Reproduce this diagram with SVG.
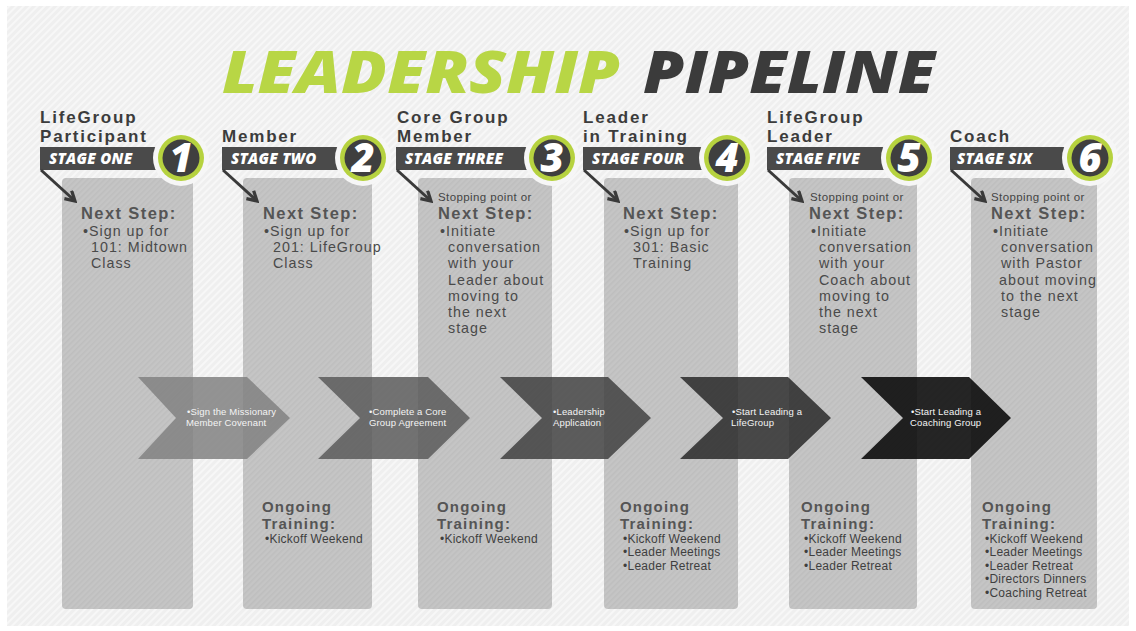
<svg xmlns="http://www.w3.org/2000/svg" width="1136" height="631" viewBox="0 0 1136 631">
<defs>
<pattern id="bgHatch" width="5" height="5" patternUnits="userSpaceOnUse" patternTransform="rotate(45)">
<rect width="5" height="5" fill="#efefef"/>
<rect width="2" height="5" fill="#f7f7f7"/>
</pattern>
<pattern id="colHatch" width="4" height="4" patternUnits="userSpaceOnUse" patternTransform="rotate(45)">
<rect width="4" height="4" fill="#c5c5c5"/>
<rect width="1.5" height="4" fill="#bebebe"/>
</pattern>
<marker id="arr" viewBox="0 0 10 10" refX="8" refY="5" markerWidth="4.5" markerHeight="4.5" orient="auto" markerUnits="strokeWidth">
<path d="M1,1 L8,5 L1,9" fill="none" stroke="#3a3a3a" stroke-width="2.4"/>
</marker>
</defs>
<style>
.col{fill:url(#colHatch)}
.bar{fill:#4a4a4a}
.halo{fill:#f6f6f6}
.ring{fill:#b6d23f}
.disc{fill:#3f3f3f}
.num{font-family:"Open Sans","Liberation Sans",sans-serif;font-weight:800;font-style:italic;font-size:40px;fill:#ffffff;text-anchor:middle}
.stage{font-family:"Open Sans","Liberation Sans",sans-serif;font-weight:800;font-style:italic;font-size:15px;fill:#ffffff;letter-spacing:0.3px}
.head{font-family:"Liberation Sans",Arial,sans-serif;font-weight:700;font-size:17px;fill:#3c3c3c;letter-spacing:1.8px}
.ns{font-family:"Liberation Sans",Arial,sans-serif;font-weight:700;font-size:16.5px;fill:#555555;letter-spacing:1.4px}
.og{font-family:"Liberation Sans",Arial,sans-serif;font-weight:700;font-size:15px;fill:#555555;letter-spacing:1.2px}
.sp{font-family:"Liberation Sans",Arial,sans-serif;font-size:11.5px;fill:#444444;letter-spacing:0.4px}
.bl{font-family:"Liberation Sans",Arial,sans-serif;font-size:14.3px;fill:#4a4a4a;letter-spacing:1px}
.tr{font-family:"Liberation Sans",Arial,sans-serif;font-size:12px;fill:#3f3f3f;letter-spacing:0.25px}
.cv{font-family:"Liberation Sans",Arial,sans-serif;font-size:9.5px;fill:#f4f4f4;letter-spacing:0.15px}
.ptr{stroke:#3a3a3a;stroke-width:3;fill:none}
</style>
<rect x="0" y="0" width="1136" height="631" fill="#ffffff"/>
<rect x="7" y="6" width="1122" height="620" fill="url(#bgHatch)"/>

<g id="title">
<text x="222" y="93" font-family="'Open Sans','Liberation Sans',sans-serif" font-weight="800" font-style="italic" font-size="58" fill="#b8d645" textLength="398" lengthAdjust="spacingAndGlyphs">LEADERSHIP</text>
<text x="643" y="93" font-family="'Open Sans','Liberation Sans',sans-serif" font-weight="800" font-style="italic" font-size="58" fill="#3b3b3b" textLength="292" lengthAdjust="spacingAndGlyphs">PIPELINE</text>
</g>

<g id="stage1">
<rect class="col" x="62" y="178" width="131" height="431" rx="4"/>
<rect class="bar" x="40" y="147" width="141" height="23"/>
<circle class="halo" cx="181" cy="158" r="28"/>
<circle class="ring" cx="181" cy="158" r="23"/>
<circle class="disc" cx="181" cy="158" r="18.5"/>
<text class="num" x="181" y="172">1</text>
<text class="stage" x="49" y="164">STAGE ONE</text>
<text class="head" x="40" y="123">LifeGroup</text>
<text class="head" x="40" y="142">Participant</text>
<text class="ns" x="81" y="219">Next Step:</text>
<text class="bl" x="83" y="236">•Sign up for</text>
<text class="bl" x="91" y="252">101: Midtown</text>
<text class="bl" x="91" y="268">Class</text>
</g>

<g id="stage2">
<rect class="col" x="243" y="178" width="129" height="431" rx="4"/>
<rect class="bar" x="222" y="147" width="141" height="23"/>
<circle class="halo" cx="363" cy="158" r="28"/>
<circle class="ring" cx="363" cy="158" r="23"/>
<circle class="disc" cx="363" cy="158" r="18.5"/>
<text class="num" x="363" y="172">2</text>
<text class="stage" x="231" y="164">STAGE TWO</text>
<text class="head" x="222" y="142">Member</text>
<text class="ns" x="263" y="219">Next Step:</text>
<text class="bl" x="264" y="236">•Sign up for</text>
<text class="bl" x="273" y="252">201: LifeGroup</text>
<text class="bl" x="273" y="268">Class</text>
<text class="og" x="262" y="511.5">Ongoing</text>
<text class="og" x="262" y="528.5">Training:</text>
<text class="tr" x="265" y="542.5">•Kickoff Weekend</text>
</g>

<g id="stage3">
<rect class="col" x="418" y="178" width="134" height="431" rx="4"/>
<rect class="bar" x="396" y="147" width="156" height="23"/>
<circle class="halo" cx="552" cy="158" r="28"/>
<circle class="ring" cx="552" cy="158" r="23"/>
<circle class="disc" cx="552" cy="158" r="18.5"/>
<text class="num" x="552" y="172">3</text>
<text class="stage" x="405" y="164">STAGE THREE</text>
<text class="head" x="397" y="123">Core Group</text>
<text class="head" x="397" y="142">Member</text>
<text class="sp" x="438" y="201">Stopping point or</text>
<text class="ns" x="438" y="219">Next Step:</text>
<text class="bl" x="440" y="236">•Initiate</text>
<text class="bl" x="448" y="252">conversation</text>
<text class="bl" x="448" y="268">with your</text>
<text class="bl" x="448" y="285">Leader about</text>
<text class="bl" x="448" y="301">moving to</text>
<text class="bl" x="448" y="317">the next</text>
<text class="bl" x="448" y="333">stage</text>
<text class="og" x="437" y="511.5">Ongoing</text>
<text class="og" x="437" y="528.5">Training:</text>
<text class="tr" x="440" y="542.5">•Kickoff Weekend</text>
</g>

<g id="stage4">
<rect class="col" x="604" y="178" width="134" height="431" rx="4"/>
<rect class="bar" x="583" y="147" width="144" height="23"/>
<circle class="halo" cx="727" cy="158" r="28"/>
<circle class="ring" cx="727" cy="158" r="23"/>
<circle class="disc" cx="727" cy="158" r="18.5"/>
<text class="num" x="727" y="172">4</text>
<text class="stage" x="592" y="164">STAGE FOUR</text>
<text class="head" x="583" y="123">Leader</text>
<text class="head" x="583" y="142">in Training</text>
<text class="ns" x="623" y="219">Next Step:</text>
<text class="bl" x="624" y="236">•Sign up for</text>
<text class="bl" x="633" y="252">301: Basic</text>
<text class="bl" x="633" y="268">Training</text>
<text class="og" x="620" y="511.5">Ongoing</text>
<text class="og" x="620" y="528.5">Training:</text>
<text class="tr" x="623" y="542.5">•Kickoff Weekend</text>
<text class="tr" x="623" y="556">•Leader Meetings</text>
<text class="tr" x="623" y="569.5">•Leader Retreat</text>
</g>

<g id="stage5">
<rect class="col" x="789" y="178" width="128" height="431" rx="4"/>
<rect class="bar" x="767" y="147" width="142" height="23"/>
<circle class="halo" cx="909" cy="158" r="28"/>
<circle class="ring" cx="909" cy="158" r="23"/>
<circle class="disc" cx="909" cy="158" r="18.5"/>
<text class="num" x="909" y="172">5</text>
<text class="stage" x="776" y="164">STAGE FIVE</text>
<text class="head" x="767" y="123">LifeGroup</text>
<text class="head" x="767" y="142">Leader</text>
<text class="sp" x="810" y="201">Stopping point or</text>
<text class="ns" x="809" y="219">Next Step:</text>
<text class="bl" x="811" y="236">•Initiate</text>
<text class="bl" x="819" y="252">conversation</text>
<text class="bl" x="819" y="268">with your</text>
<text class="bl" x="819" y="285">Coach about</text>
<text class="bl" x="819" y="301">moving to</text>
<text class="bl" x="819" y="317">the next</text>
<text class="bl" x="819" y="333">stage</text>
<text class="og" x="801" y="511.5">Ongoing</text>
<text class="og" x="801" y="528.5">Training:</text>
<text class="tr" x="804" y="542.5">•Kickoff Weekend</text>
<text class="tr" x="804" y="556">•Leader Meetings</text>
<text class="tr" x="804" y="569.5">•Leader Retreat</text>
</g>

<g id="stage6">
<rect class="col" x="971" y="178" width="126" height="431" rx="4"/>
<rect class="bar" x="950" y="147" width="140" height="23"/>
<circle class="halo" cx="1090" cy="158" r="28"/>
<circle class="ring" cx="1090" cy="158" r="23"/>
<circle class="disc" cx="1090" cy="158" r="18.5"/>
<text class="num" x="1090" y="172">6</text>
<text class="stage" x="957" y="164">STAGE SIX</text>
<text class="head" x="950" y="142">Coach</text>
<text class="sp" x="991" y="201">Stopping point or</text>
<text class="ns" x="991" y="219">Next Step:</text>
<text class="bl" x="993" y="236">•Initiate</text>
<text class="bl" x="1001" y="252">conversation</text>
<text class="bl" x="1001" y="268">with Pastor</text>
<text class="bl" x="999" y="285">about moving</text>
<text class="bl" x="1001" y="301">to the next</text>
<text class="bl" x="1001" y="317">stage</text>
<text class="og" x="982" y="511.5">Ongoing</text>
<text class="og" x="982" y="528.5">Training:</text>
<text class="tr" x="985" y="542.5">•Kickoff Weekend</text>
<text class="tr" x="985" y="556">•Leader Meetings</text>
<text class="tr" x="985" y="569.5">•Leader Retreat</text>
<text class="tr" x="985" y="583">•Directors Dinners</text>
<text class="tr" x="985" y="596.5">•Coaching Retreat</text>
</g>

<g id="connectors">
<path class="ptr" d="M41,170 L75,201" marker-end="url(#arr)"/>
<path class="ptr" d="M223,170 L257,201" marker-end="url(#arr)"/>
<path class="ptr" d="M397,170 L431,201" marker-end="url(#arr)"/>
<path class="ptr" d="M584,170 L618,201" marker-end="url(#arr)"/>
<path class="ptr" d="M768,170 L802,201" marker-end="url(#arr)"/>
<path class="ptr" d="M951,170 L985,201" marker-end="url(#arr)"/>
</g>

<g id="chevron1">
<polygon points="138,377 247,377 290,418 247,459 138,459 176,418" fill="#818181" fill-opacity="0.85"/>
<text class="cv" x="187" y="415">•Sign the Missionary</text>
<text class="cv" x="186" y="426">Member Covenant</text>
</g>
<g id="chevron2">
<polygon points="318,377 428,377 470,418 428,459 318,459 360,418" fill="#5a5a5a" fill-opacity="0.85"/>
<text class="cv" x="369" y="415">•Complete a Core</text>
<text class="cv" x="369" y="426">Group Agreement</text>
</g>
<g id="chevron3">
<polygon points="500,377 608,377 651,418 608,459 500,459 542,418" fill="#414141" fill-opacity="0.85"/>
<text class="cv" x="553" y="415">•Leadership</text>
<text class="cv" x="553" y="426">Application</text>
</g>
<g id="chevron4">
<polygon points="680,377 788,377 831,418 788,459 680,459 723,418" fill="#292929" fill-opacity="0.85"/>
<text class="cv" x="732" y="415">•Start Leading a</text>
<text class="cv" x="731" y="426">LifeGroup</text>
</g>
<g id="chevron5">
<polygon points="861,377 969,377 1011,418 969,459 861,459 903,418" fill="#080808" fill-opacity="0.88"/>
<text class="cv" x="911" y="415">•Start Leading a</text>
<text class="cv" x="910" y="426">Coaching Group</text>
</g>
</svg>
